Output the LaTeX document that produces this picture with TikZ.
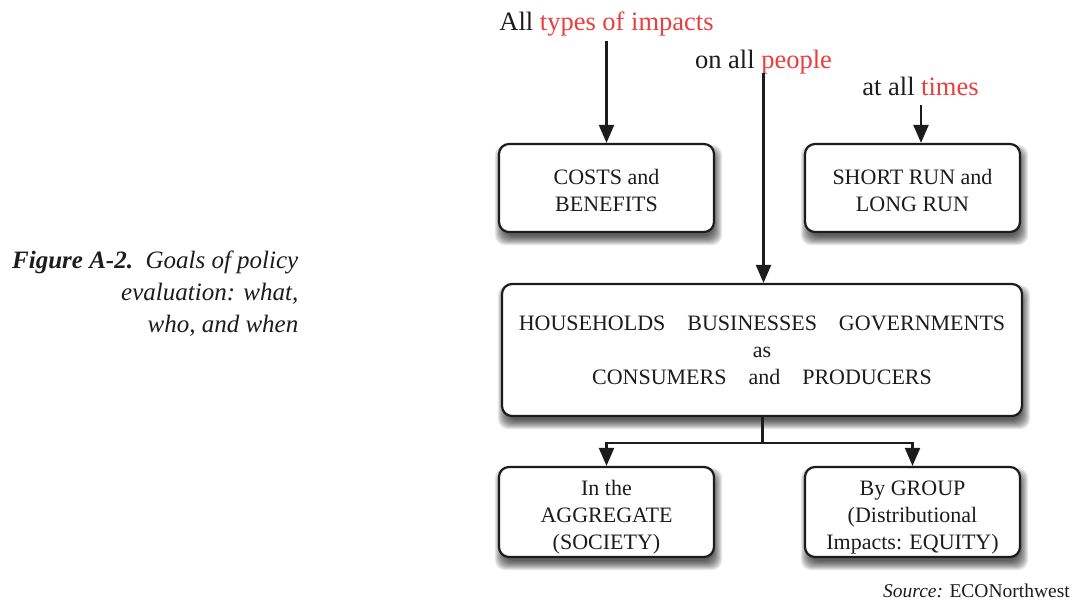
\documentclass[tikz,border=0pt]{standalone}
\usepackage{fontspec}
\setmainfont{Liberation Serif}
\usetikzlibrary{arrows.meta,backgrounds}
\definecolor{hired}{RGB}{234,62,62}
\definecolor{ink}{RGB}{28,28,28}
\newcommand{\tst}{\rule{0pt}{26pt}}
\newcommand{\tsm}{\rule{0pt}{20pt}}
\newcommand{\bst}{\rule[-6pt]{0pt}{6pt}}
\tikzset{
  box/.style={draw=ink, line width=2.2pt, rounded corners=10pt, fill=white,
    minimum width=215pt, minimum height=88pt, inner sep=2pt, align=center, text=ink,
    font=\fontsize{22}{27}\selectfont},
  lbl/.style={text=ink, font=\fontsize{26.5}{30}\selectfont, inner sep=0pt},
  arr/.style={draw=ink, line width=2.2pt, -{Triangle[length=18pt,width=15pt]}},
  ln/.style={draw=ink, line width=2.2pt},
  shad/.style={fill=black, fill opacity=0.09, rounded corners=10pt}
}
\begin{document}
\begin{tikzpicture}[x=1pt,y=-1pt]
\useasboundingbox (0,0) rectangle (1073,602);
% boxes
\node[box] (cb) at (606.5,188) {\tst COSTS and\\BENEFITS\bst};
\node[box] (sr) at (912.5,188) {\tst SHORT RUN and\\LONG RUN\bst};
\node[box, minimum width=520pt, minimum height=132pt] (hh) at (762,350)
  {\tsm HOUSEHOLDS\quad BUSINESSES\quad GOVERNMENTS\\ as\\ CONSUMERS\quad and\quad PRODUCERS\bst};
\node[box] (ag) at (606.5,512) {\tst In the\\AGGREGATE\\(SOCIETY)\bst};
\node[box] (gr) at (912.5,512) {\tst By GROUP\\(Distributional\\Impacts: EQUITY)\bst};
% top labels
\node[lbl, anchor=base] (t1) at (606.5,31) {All \textcolor{hired}{types of impacts}};
\node[lbl, anchor=base] (t2) at (763.5,68) {on all \textcolor{hired}{people}};
\node[lbl, anchor=base] (t3) at (920.5,95) {at all \textcolor{hired}{times}};
\coordinate (a1) at (606.5,41);
\coordinate (a2) at (763.5,73);
\coordinate (a3) at (921,105);
\draw[arr] (a1) -- (a1 |- cb.north);
\draw[arr] (a2) -- (a2 |- hh.north);
\draw[arr] (a3) -- (a3 |- sr.north);
% fork
\coordinate (fk) at (762.5,443);
\draw[ln] (hh.south -| fk) -- (fk);
\draw[arr] (fk) -| (ag.north);
\draw[arr] (fk) -| (gr.north);
% caption
\node[anchor=north east, align=right, text=ink, inner sep=0pt,
  font=\fontsize{25}{32}\selectfont] (cap) at (298.5,251)
  {\textbf{\textit{Figure A-2.}}\ \ \textit{Goals of policy}\\
   \textit{evaluation: what,}\\ \textit{who, and when}};
% source
\node[anchor=base east, text=ink, inner sep=0pt, font=\fontsize{19.5}{22}\selectfont] (src)
  at (1070,597) {\textit{Source:} ECONorthwest};
% shadows
\begin{scope}[on background layer]
  \fill[white] (0,0) rectangle (1073,602);
  \foreach \n in {cb,sr,hh,ag,gr}{
    \foreach \e in {-4,...,5}{
      \fill[shad] ([shift={(2-\e,7-\e)}]\n.north west) rectangle ([shift={(2+\e,7+\e)}]\n.south east);
    }
  }
\end{scope}
\end{tikzpicture}
\end{document}
